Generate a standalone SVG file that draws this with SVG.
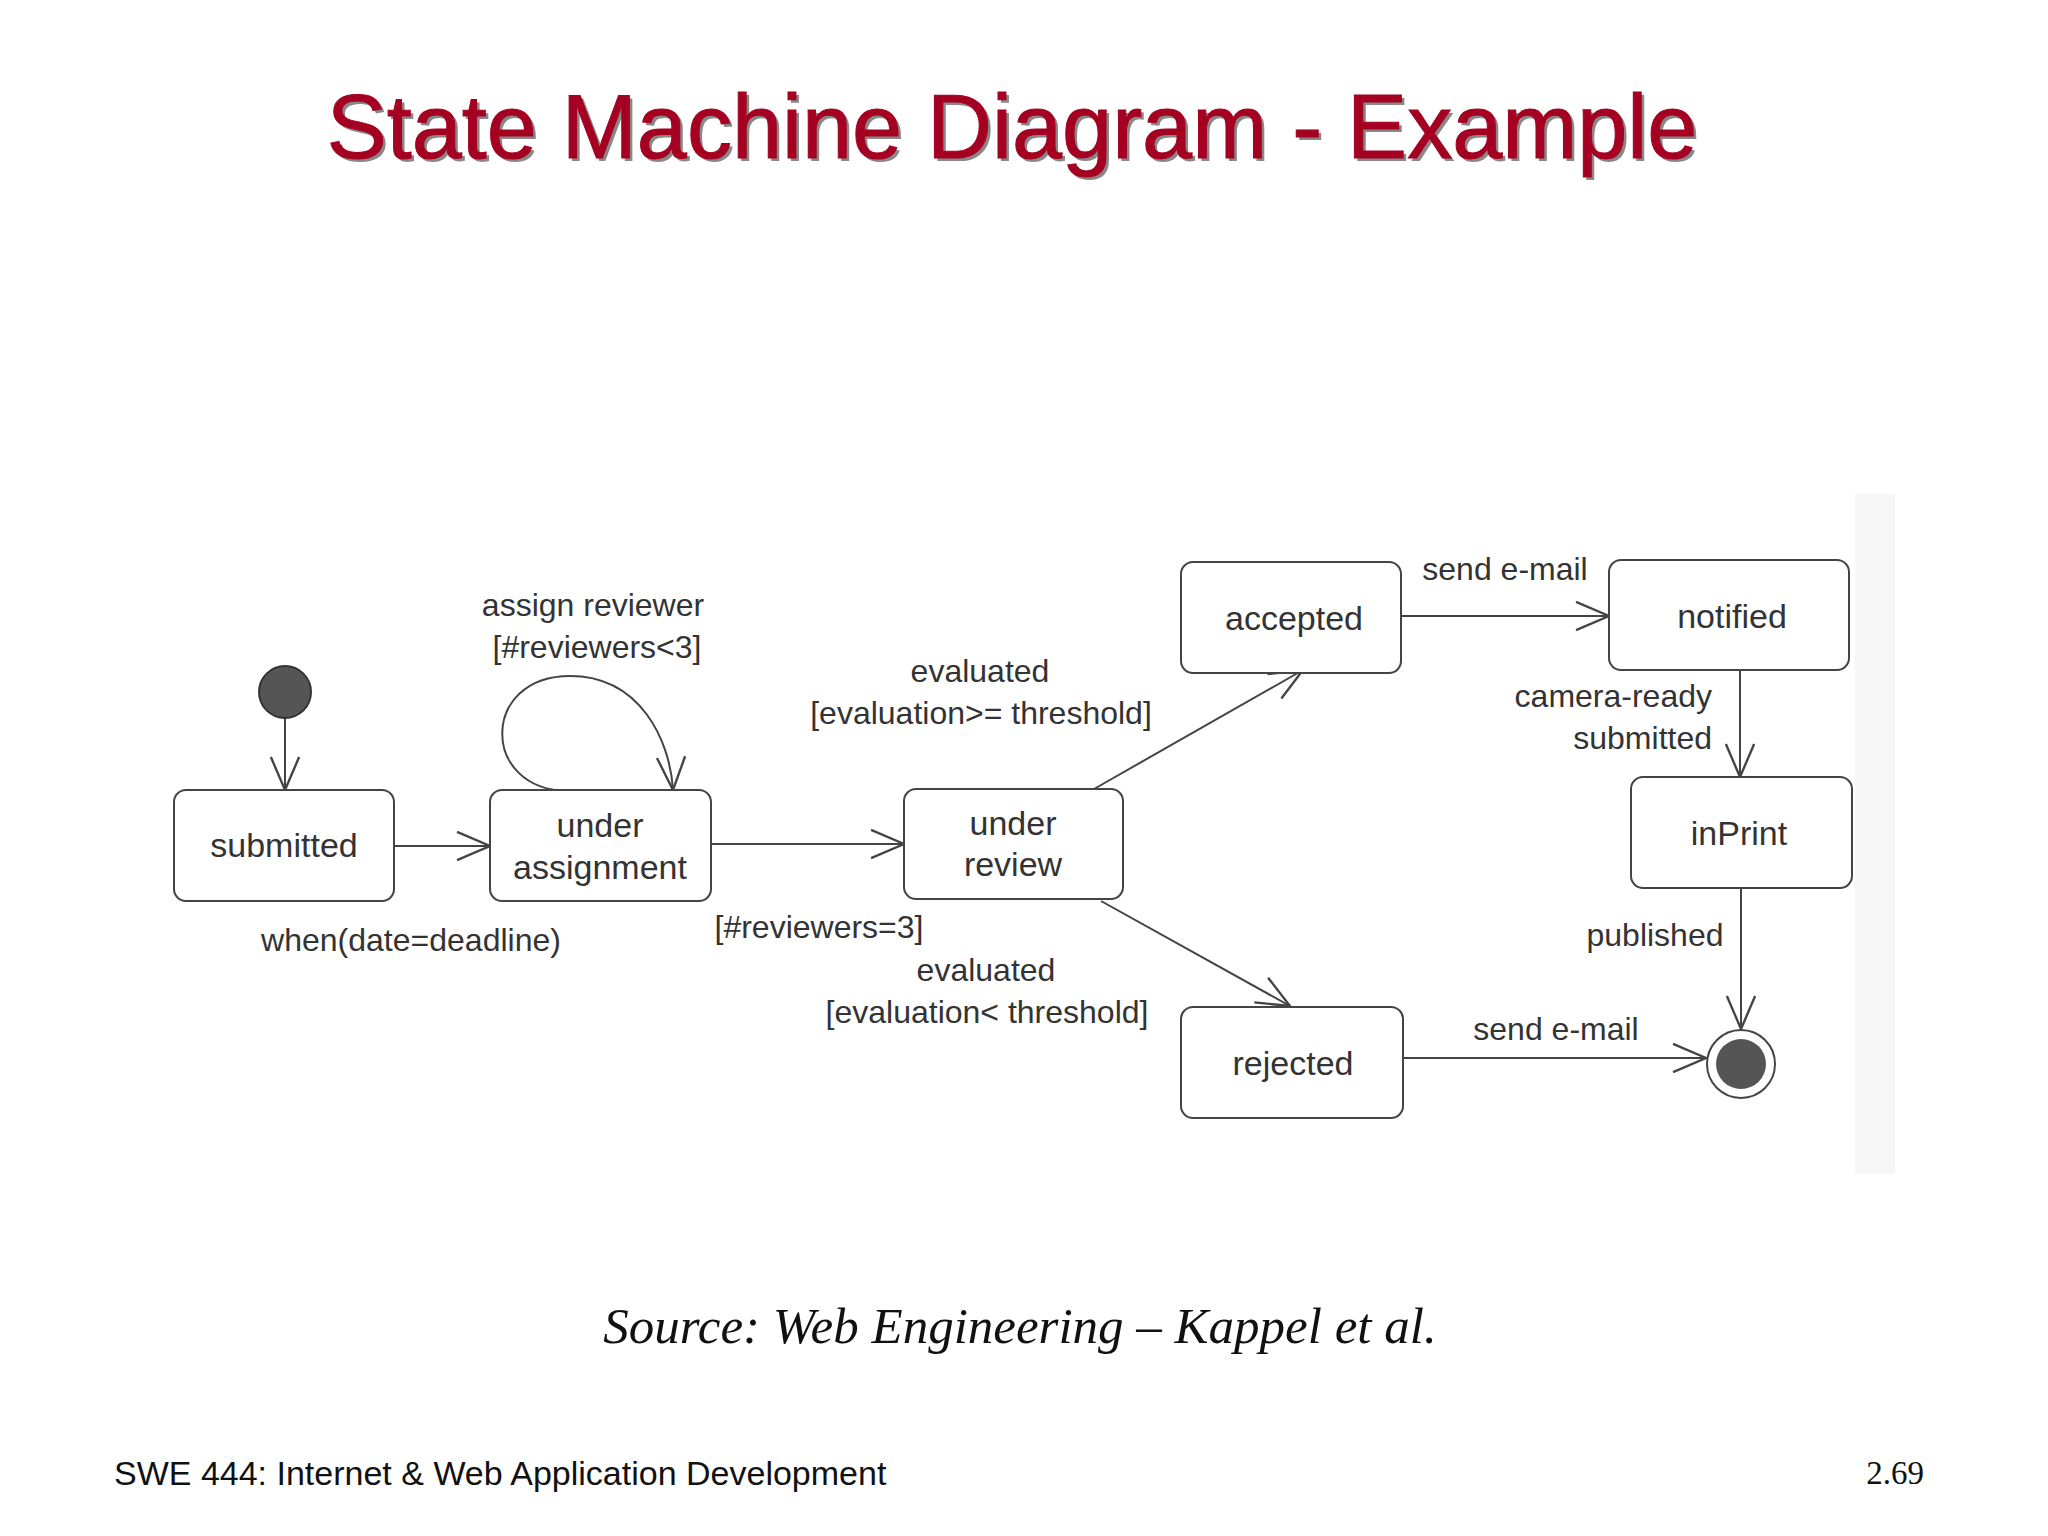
<svg xmlns="http://www.w3.org/2000/svg" width="2048" height="1536" viewBox="0 0 2048 1536">
<style>
.n rect{fill:#fff;stroke:#444;stroke-width:2}
.t{font-family:"Liberation Sans",Arial,sans-serif;font-size:34px;fill:#333;text-anchor:middle;dominant-baseline:central}
.l{font-family:"Liberation Sans",Arial,sans-serif;font-size:32px;fill:#333;text-anchor:middle;dominant-baseline:central}
.c path,.c line{fill:none;stroke:#444;stroke-width:2;marker-end:url(#a)}
</style>
<defs>
<marker id="a" markerUnits="userSpaceOnUse" markerWidth="40" markerHeight="40" viewBox="-30 -15 34 30" refX="0" refY="0" orient="auto">
<path d="M-28,-12 L0,0 L-28,12" fill="none" stroke="#444" stroke-width="2"/>
</marker>
</defs>
<rect width="2048" height="1536" fill="#fff"/>
<rect x="1855" y="494" width="40" height="680" fill="#f6f6f6"/>
<text x="1015" y="130" font-family="'Liberation Sans',Arial,sans-serif" font-size="90" text-anchor="middle" dominant-baseline="central" fill="#888">State Machine Diagram - Example</text>
<text x="1012" y="127" font-family="'Liberation Sans',Arial,sans-serif" font-size="90" text-anchor="middle" dominant-baseline="central" fill="#a50021" stroke="#a50021" stroke-width="1">State Machine Diagram - Example</text>

<g class="c">
<line x1="285" y1="718" x2="285" y2="790"/>
<line x1="394" y1="846" x2="490" y2="846"/>
<path d="M568,791 C480,790 480,676 570,676 C640,676 670,740 673,790"/>
<line x1="711" y1="844" x2="904" y2="844"/>
<line x1="1094" y1="789" x2="1303" y2="670"/>
<line x1="1101" y1="901" x2="1290" y2="1006"/>
<line x1="1401" y1="616" x2="1609" y2="616"/>
<line x1="1740" y1="670" x2="1740" y2="777"/>
<line x1="1741" y1="888" x2="1741" y2="1029"/>
<line x1="1403" y1="1058" x2="1706" y2="1058"/>
</g>

<g id="initial"><circle cx="285" cy="692" r="26" fill="#555" stroke="#333" stroke-width="2"/></g>
<g id="submitted" class="n"><rect x="174" y="790" width="220" height="111" rx="12"/><text class="t" x="284" y="845">submitted</text></g>
<g id="underAssignment" class="n"><rect x="490" y="790" width="221" height="111" rx="12"/><text class="t" x="600" y="825">under</text><text class="t" x="600" y="867">assignment</text></g>
<g id="underReview" class="n"><rect x="904" y="789" width="219" height="110" rx="12"/><text class="t" x="1013" y="823">under</text><text class="t" x="1013" y="864">review</text></g>
<g id="accepted" class="n"><rect x="1181" y="562" width="220" height="111" rx="12"/><text class="t" x="1294" y="618">accepted</text></g>
<g id="notified" class="n"><rect x="1609" y="560" width="240" height="110" rx="12"/><text class="t" x="1732" y="616">notified</text></g>
<g id="inPrint" class="n"><rect x="1631" y="777" width="221" height="111" rx="12"/><text class="t" x="1739" y="833">inPrint</text></g>
<g id="rejected" class="n"><rect x="1181" y="1007" width="222" height="111" rx="12"/><text class="t" x="1293" y="1063">rejected</text></g>
<g id="final"><circle cx="1741" cy="1064" r="34" fill="#fff" stroke="#444" stroke-width="2"/><circle cx="1741" cy="1064" r="25" fill="#555"/></g>

<g id="labels">
<text class="l" x="593" y="605">assign reviewer</text>
<text class="l" x="597" y="647">[#reviewers&lt;3]</text>
<text class="l" x="980" y="671">evaluated</text>
<text class="l" x="981" y="713">[evaluation&gt;= threshold]</text>
<text class="l" x="1505" y="569">send e-mail</text>
<text class="l" x="1712" y="696" style="text-anchor:end">camera-ready</text>
<text class="l" x="1712" y="738" style="text-anchor:end">submitted</text>
<text class="l" x="411" y="940">when(date=deadline)</text>
<text class="l" x="819" y="927">[#reviewers=3]</text>
<text class="l" x="986" y="970">evaluated</text>
<text class="l" x="987" y="1012">[evaluation&lt; threshold]</text>
<text class="l" x="1655" y="935">published</text>
<text class="l" x="1556" y="1029">send e-mail</text>
</g>
<text x="1020" y="1326" font-family="'Liberation Serif','Times New Roman',serif" font-style="italic" font-size="51" text-anchor="middle" dominant-baseline="central" fill="#111">Source: Web Engineering – Kappel et al.</text>
<text x="114" y="1473" font-family="'Liberation Sans',Arial,sans-serif" font-size="34" dominant-baseline="central" fill="#111">SWE 444: Internet &amp; Web Application Development</text>
<text x="1924" y="1473" font-family="'Liberation Serif','Times New Roman',serif" font-size="33" text-anchor="end" dominant-baseline="central" fill="#111">2.69</text>
</svg>
